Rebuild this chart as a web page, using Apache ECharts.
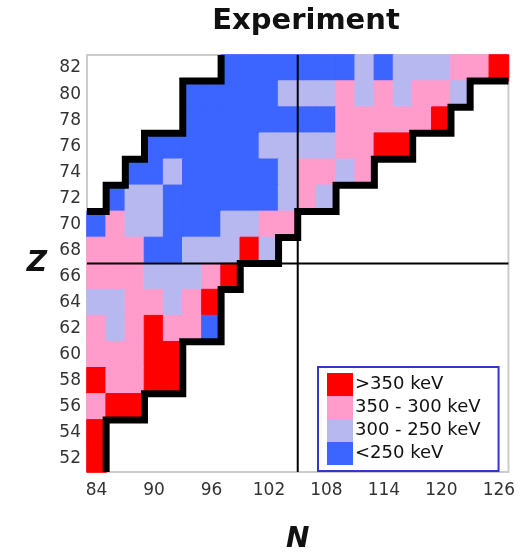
<!DOCTYPE html>
<html>
<head>
    <meta charset="utf-8">
    <script src="https://cdn.jsdelivr.net/npm/echarts@6/dist/echarts.min.js"></script>
</head>
<body style="margin:0;background:#fff">
<div id="main" style="width: 518px;height:559px;"></div>

<script type="text/javascript">
    // columns: neutron number N, rows: proton number Z (even-even nuclei)
    var nLabels = [84, 86, 88, 90, 92, 94, 96, 98, 100, 102, 104, 106, 108, 110, 112, 114, 116, 118, 120, 122, 124, 126];
    var zLabels = [52, 54, 56, 58, 60, 62, 64, 66, 68, 70, 72, 74, 76, 78, 80, 82];

    // one string per Z row, from Z=82 down to Z=52, one char per N column
    // b: <250 keV, l: 300-250 keV, p: 350-300 keV, r: >350 keV, '.': no data
    var rows = [
        '.......bbbbbbblblllppr',  // 82
        '.....bbbbblllplplppl..',  // 80
        '.....bbbbbbbbpppppr...',  // 78
        '...bbbbbbllllpprr.....',  // 76
        '..bblbbbbblpplp.......',  // 74
        '.bllbbbbbblpl.........',  // 72
        'bpllbbbllpp...........',  // 70
        'pppbblllrl............',  // 68
        'ppplllpr..............',  // 66
        'llpplpr...............',  // 64
        'plprppb...............',  // 62
        'ppprr.................',  // 60
        'rpprr.................',  // 58
        'prr...................',  // 56
        'r.....................',  // 54
        'r.....................'   // 52
    ];

    var bandCodes = ['b', 'l', 'p', 'r'];
    var bandLabels = ['<250 keV', '300 - 250 keV', '350 - 300 keV', '>350 keV'];
    var bandColors = ['#3c64ff', '#b8b8f0', '#ff9ccc', '#ff0000'];

    // reference lines between cells
    var splitN = 105;
    var splitZ = 67;

    var nMin = nLabels[0] - 1, nMax = nLabels[nLabels.length - 1] + 1;
    var zMin = zLabels[0] - 1, zMax = zLabels[zLabels.length - 1] + 1;

    var cells = [];
    var leftLine = [], rightLine = [];
    var leftDone = false, rightStarted = false;
    rows.forEach(function (row, k) {
        var zi = zLabels.length - 1 - k;
        var z = zLabels[zi];
        var first = -1, last = -1;
        for (var i = 0; i < row.length; i++) {
            var code = bandCodes.indexOf(row[i]);
            if (code < 0) continue;
            // border in the cell's own colour hides the seams between cells
            cells.push({value: [i, zi, code], itemStyle: {borderColor: bandColors[code], borderWidth: 1}});
            if (first < 0) first = i;
            last = i;
        }
        // staircase outline of the measured region
        if (!leftDone) {
            var l = nLabels[first] - 1;
            if (l === nMin) {
                leftLine.push([l, z + 1]);
                leftDone = true;
            } else {
                leftLine.push([l, z + 1], [l, z - 1]);
            }
        }
        var r = nLabels[last] + 1;
        if (r === nMax && !rightStarted) return;
        if (!rightStarted) {
            rightLine.push([nMax, z + 1]);
            rightStarted = true;
        }
        rightLine.push([r, z + 1], [r, z - 1]);
    });

    var font = 'DejaVu Sans';
    var thick = {color: '#000', width: 7, join: 'miter'};
    var thin = {color: '#000', width: 2};

    function lineSeries(data, style) {
        return {
            type: 'line', xAxisIndex: 1, yAxisIndex: 1, data: data,
            symbol: 'none', silent: true, clip: true, lineStyle: style, z: 5
        };
    }

    var myChart = echarts.init(document.getElementById('main'));
    var option = {
        backgroundColor: '#fff',
        animation: false,
        title: {
            text: 'Experiment',
            left: 301, top: 2, textAlign: 'center',
            textStyle: {fontFamily: font, fontWeight: 'bold', fontSize: 29, color: '#111'}
        },
        grid: {
            left: 87, top: 55, width: 426, height: 427,
            show: true, borderColor: '#cccccc', borderWidth: 2, backgroundColor: '#fff'
        },
        xAxis: [{
            type: 'category', data: nLabels,
            name: 'N', nameLocation: 'middle', nameGap: 54,
            nameTextStyle: {fontFamily: font, fontWeight: 'bold', fontStyle: 'italic', fontSize: 28, color: '#111'},
            axisLine: {show: false}, axisTick: {show: false}, splitLine: {show: false},
            axisLabel: {interval: 2, margin: 10, fontFamily: font, fontSize: 17, color: '#333'}
        }, {
            type: 'value', min: nMin, max: nMax, show: false
        }],
        yAxis: [{
            type: 'category', data: zLabels,
            name: 'Z', nameLocation: 'middle', nameGap: 40, nameRotate: 0,
            nameTextStyle: {fontFamily: font, fontWeight: 'bold', fontStyle: 'italic', fontSize: 28, color: '#111',
                padding: [0, 0, 32, 0]},
            axisLine: {show: false}, axisTick: {show: false}, splitLine: {show: false},
            axisLabel: {interval: 0, margin: 6, fontFamily: font, fontSize: 17, color: '#333'}
        }, {
            type: 'value', min: zMin, max: zMax, show: false
        }],
        visualMap: {
            type: 'piecewise', seriesIndex: 0, dimension: 2,
            pieces: bandLabels.map(function (label, i) {
                return {value: i, label: label, color: bandColors[i]};
            }),
            orient: 'vertical', left: 317, top: 366, align: 'left',
            itemWidth: 26, itemHeight: 23, itemGap: 0, itemSymbol: 'rect',
            textGap: 2, selectedMode: false, hoverLink: false,
            textStyle: {fontFamily: font, fontSize: 18, color: '#111'},
            backgroundColor: '#fff', borderColor: '#3535d0', borderWidth: 2,
            padding: [6, 18, 6, 9]
        },
        series: [{
            type: 'heatmap', data: cells, silent: true
        },
            lineSeries(leftLine, thick),
            lineSeries(rightLine, thick),
            lineSeries([[splitN, zMin], [splitN, zMax]], thin),
            lineSeries([[nMin, splitZ], [nMax, splitZ]], thin)
        ]
    };
    myChart.setOption(option);
</script>
</body>
</html>
